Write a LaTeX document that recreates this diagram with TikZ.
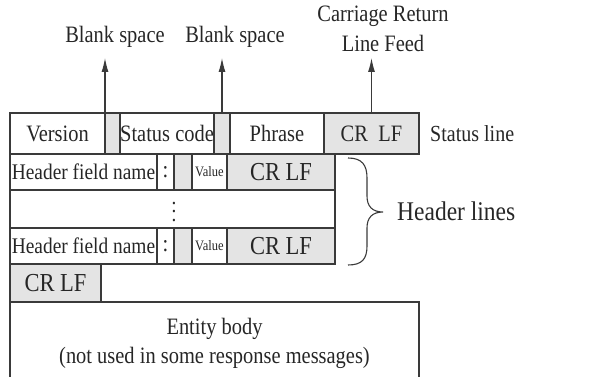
\documentclass[tikz,border=0pt]{standalone}
\usepackage{fontspec}
\setmainfont[FakeStretch=0.87]{Liberation Serif}
\usetikzlibrary{arrows.meta}
\definecolor{cellgray}{HTML}{E4E4E4}
\definecolor{celledge}{HTML}{3A3A3A}

\newcommand{\fieldcell}[7]{
	\pgfmathsetmacro{\FCw}{#3-#2}
	\pgfmathsetmacro{\FCh}{#5-#4}
	\node[#6, minimum width=\FCw pt, minimum height=\FCh pt] (#1) at (#2, #4) {#7};
}

\tikzset{
	cell/.style={draw=celledge, line width=1.1pt, anchor=north west, inner sep=0pt, outer sep=0pt, text=black!85},
	blank/.style={cell, fill=cellgray},
	pointer/.style={draw=celledge, line width=1.1pt, -{Latex[length=14pt,width=7pt]}},
	brace/.style={draw=celledge, line width=1.1pt},
	lbl/.style={text=black!85},
}

\begin{document}
\begin{tikzpicture}[x=1pt, y=-1pt, font=\fontsize{23.5}{27}\selectfont]
\useasboundingbox (0,0) rectangle (600,377);

\pgfmathsetmacro{\stTop}{113}
\pgfmathsetmacro{\stBot}{154}
\pgfmathsetmacro{\hdA}{190}
\pgfmathsetmacro{\hdB}{228}
\pgfmathsetmacro{\hdC}{264}
\pgfmathsetmacro{\enTop}{302}
\pgfmathsetmacro{\brX}{348}

\fieldcell{version}{10}{105}{\stTop}{\stBot}{cell}{Version}
\fieldcell{blanka}{105}{120}{\stTop}{\stBot}{blank}{}
\fieldcell{status}{120}{214}{\stTop}{\stBot}{cell}{Status code}
\fieldcell{blankb}{214}{230}{\stTop}{\stBot}{blank}{}
\fieldcell{phrase}{230}{324}{\stTop}{\stBot}{cell}{Phrase}
\fieldcell{crlfa}{324}{419}{\stTop}{\stBot}{blank}{CR\hspace{0.45em}LF}

\fieldcell{namea}{10}{157}{\stBot}{\hdA}{cell, font=\fontsize{22.3}{25}\selectfont}{Header field name}
\fieldcell{colona}{157}{174}{\stBot}{\hdA}{cell}{:}
\fieldcell{blankc}{174}{192}{\stBot}{\hdA}{blank}{}
\fieldcell{valuea}{192}{227}{\stBot}{\hdA}{cell, font=\fontsize{14.4}{16}\selectfont}{Value}
\fieldcell{crlfb}{227}{335}{\stBot}{\hdA}{blank, font=\fontsize{25.9}{30}\selectfont}{CR LF}

\fieldcell{dotrow}{10}{335}{\hdA}{\hdB}{cell}{}
\node[lbl, inner sep=0pt, font=\fontsize{22}{24}\selectfont] (vdots) at (174,212) {\vbox{\baselineskip=8.3pt\lineskiplimit=-20pt\hbox{.}\hbox{.}\hbox{.}}};

\fieldcell{nameb}{10}{157}{\hdB}{\hdC}{cell, font=\fontsize{22.3}{25}\selectfont}{Header field name}
\fieldcell{colonb}{157}{174}{\hdB}{\hdC}{cell}{:}
\fieldcell{blankd}{174}{192}{\hdB}{\hdC}{blank}{}
\fieldcell{valueb}{192}{227}{\hdB}{\hdC}{cell, font=\fontsize{14.4}{16}\selectfont}{Value}
\fieldcell{crlfc}{227}{335}{\hdB}{\hdC}{blank, font=\fontsize{25.9}{30}\selectfont}{CR LF}

\fieldcell{crlfd}{10}{101}{\hdC}{\enTop}{blank, font=\fontsize{25.9}{30}\selectfont}{CR LF}
\fieldcell{entity}{10}{419}{\enTop}{385}{cell, draw=none, align=center, font=\fontsize{23.5}{29}\selectfont}{Entity body\\(not used in some response messages)}
\draw[brace] (entity.south west) -- (entity.north west) -- (entity.north east) -- (entity.south east);

\node[lbl, anchor=south, inner ysep=9.9pt] (spacea) at (115,58) {Blank space};
\node[lbl, anchor=south, inner ysep=9.9pt] (spaceb) at (235,58) {Blank space};
\node[lbl, anchor=south, inner ysep=6pt, align=center, font=\fontsize{23.5}{30}\selectfont] (crlflbl) at (383,58) {Carriage Return\\Line Feed};

\draw[pointer] (blanka.north west) -- (blanka.north west |- spacea.south);
\draw[pointer] (blankb.north) -- (blankb.north |- spaceb.south);
\draw[pointer] (crlfa.north) -- (crlfa.north |- crlflbl.south);

\node[lbl, anchor=west, inner sep=0pt, font=\fontsize{23}{27}\selectfont] (statuslbl) at ([xshift=11pt]crlfa.east) {Status line};

\draw[brace] (\brX,158) .. controls (\brX+14,158) and (\brX+19,165) .. (\brX+19,178) -- (\brX+19,196) .. controls (\brX+19,206) and (\brX+24,212) .. (\brX+35,212) .. controls (\brX+24,212) and (\brX+19,218) .. (\brX+19,228) -- (\brX+19,246) .. controls (\brX+19,259) and (\brX+14,265) .. (\brX,265);
\node[lbl, anchor=west, inner sep=0pt, font=\fontsize{27}{31}\selectfont] (hdrlbl) at (397,211) {Header lines};
\end{tikzpicture}
\end{document}
